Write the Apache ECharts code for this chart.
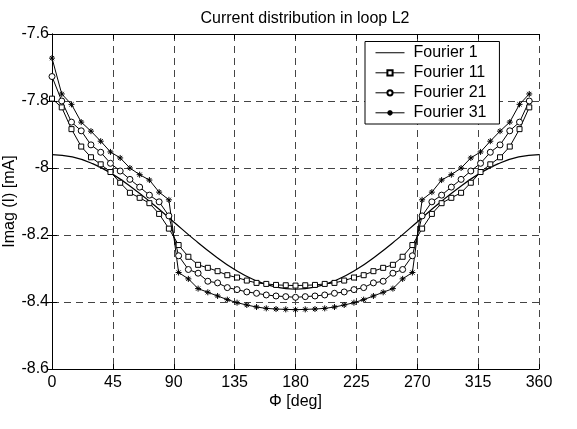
<!DOCTYPE html>
<html>
<head>
<meta charset="UTF-8">
<title>Current distribution in loop L2</title>
<script src="https://cdn.jsdelivr.net/npm/echarts@6/dist/echarts.min.js"></script>
<style>
  html, body { margin: 0; padding: 0; background: #fff; }
  #chart { width: 577px; height: 429px; }
</style>
</head>
<body>
<div id="chart"></div>
<script>
// sample positions [deg]
const phi = [0, 7.2, 14.4, 21.6, 28.8, 36, 43.2, 50.4, 57.6, 64.8, 72, 79.2, 86.4, 93.6, 100.8, 108, 115.2, 122.4, 129.6, 136.8, 144, 151.2, 158.4, 165.6, 172.8, 180,
  187.2, 194.4, 201.6, 208.8, 216, 223.2, 230.4, 237.6, 244.8, 252, 259.2, 266.4, 273.6, 280.8, 288, 295.2, 302.4, 309.6, 316.8, 324, 331.2, 338.4, 345.6, 352.8];
const phi1 = [0, 15, 30, 45, 60, 75, 90, 105, 120, 135, 150, 165, 180, 195, 210, 225, 240, 255, 270, 285, 300, 315, 330, 345, 360];

// Imag(I) [mA]
const fourier1 = [-7.960, -7.967, -7.987, -8.019, -8.061, -8.109, -8.161, -8.213, -8.261, -8.303, -8.335, -8.355, -8.362,
  -8.355, -8.335, -8.303, -8.261, -8.213, -8.161, -8.109, -8.061, -8.019, -7.987, -7.967, -7.960];
const fourier11 = [-7.793, -7.819, -7.884, -7.936, -7.968, -7.989, -8.012, -8.044, -8.074, -8.089, -8.105, -8.137, -8.181, -8.230, -8.265, -8.289, -8.298, -8.308, -8.320, -8.327, -8.336, -8.343, -8.346, -8.349, -8.350, -8.351,
  -8.350, -8.349, -8.346, -8.343, -8.336, -8.327, -8.320, -8.308, -8.298, -8.289, -8.265, -8.230, -8.181, -8.137, -8.105, -8.089, -8.074, -8.044, -8.012, -7.989, -7.968, -7.936, -7.884, -7.819];
const fourier21 = [-7.727, -7.800, -7.863, -7.889, -7.931, -7.953, -7.986, -8.009, -8.034, -8.057, -8.081, -8.101, -8.143, -8.262, -8.303, -8.314, -8.338, -8.343, -8.357, -8.363, -8.370, -8.374, -8.379, -8.382, -8.384, -8.386,
  -8.384, -8.382, -8.379, -8.374, -8.370, -8.363, -8.357, -8.343, -8.338, -8.314, -8.303, -8.262, -8.143, -8.101, -8.081, -8.057, -8.034, -8.009, -7.986, -7.953, -7.931, -7.889, -7.863, -7.800];
const fourier31 = [-7.672, -7.779, -7.810, -7.863, -7.890, -7.920, -7.952, -7.970, -8.000, -8.020, -8.036, -8.072, -8.095, -8.312, -8.331, -8.360, -8.371, -8.382, -8.393, -8.402, -8.409, -8.415, -8.419, -8.421, -8.422, -8.423,
  -8.422, -8.421, -8.419, -8.415, -8.409, -8.402, -8.393, -8.382, -8.371, -8.360, -8.331, -8.312, -8.095, -8.072, -8.036, -8.020, -8.000, -7.970, -7.952, -7.920, -7.890, -7.863, -7.810, -7.779];

const pairs = (xs, ys) => xs.map((x, i) => [x, ys[i]]);
const FONT = "'Liberation Sans', Arial, sans-serif";
const star = 'path://M5,0 L5,10 M0,5 L10,5 M1.5,1.5 L8.5,8.5 M8.5,1.5 L1.5,8.5';
// plain line for the legend entry of Fourier 1 (tiny corner dots fix the box)
const plainLine = 'path://M0,0 L0.01,0 L0,0.01 Z M0,2.8 L29,2.8 L29,3.8 L0,3.8 Z M29,6.5 L28.99,6.5 L29,6.49 Z';

const chart = echarts.init(document.getElementById('chart'));

const gridDash = { color: '#444', width: 1, type: [7, 5] };
const axisBase = {
  axisLine: { show: true, lineStyle: { color: '#000', width: 1 } },
  axisTick: { show: true, inside: true, length: 5, lineStyle: { color: '#000' } }
};

const option = {
  backgroundColor: '#fff',
  animation: false,
  textStyle: { fontFamily: FONT },
  title: {
    text: 'Current distribution in loop L2',
    left: 300, top: 6, textAlign: 'center',
    textStyle: { fontFamily: FONT, fontSize: 16, fontWeight: 'normal', color: '#000' }
  },
  grid: { left: 52, right: 38, top: 34, bottom: 60, outerBoundsMode: 'none', containLabel: false },
  legend: {
    orient: 'vertical',
    left: 365, top: 41.5,
    padding: [3.3, 13, 3.2, 10],
    itemWidth: 29, itemHeight: 6.5, itemGap: 4,
    backgroundColor: '#fff',
    borderColor: '#000', borderWidth: 1, borderRadius: 0,
    lineStyle: { width: 1 },
    textStyle: { fontFamily: FONT, fontSize: 16, color: '#000', padding: [0, 0, 0, 4] },
    data: [
      { name: 'Fourier 1', icon: plainLine, itemStyle: { color: '#000' } },
      'Fourier 11', 'Fourier 21', 'Fourier 31'
    ]
  },
  xAxis: [{
    type: 'value', min: 0, max: 360, interval: 45,
    name: 'Φ [deg]', nameLocation: 'middle', nameGap: 25, nameMoveOverlap: false,
    nameTextStyle: { fontFamily: FONT, fontSize: 16, color: '#000' },
    axisLabel: { color: '#000', fontSize: 16, margin: 6, fontFamily: FONT },
    splitLine: { show: true, lineStyle: gridDash },
    ...axisBase
  }, {
    type: 'value', min: 0, max: 360, interval: 45, position: 'top',
    axisLabel: { show: false }, splitLine: { show: false },
    ...axisBase
  }],
  yAxis: [{
    type: 'value', min: -8.6, max: -7.6, interval: 0.2,
    name: 'Imag (I) [mA]', nameLocation: 'middle', nameGap: 34, nameMoveOverlap: false,
    nameTextStyle: { fontFamily: FONT, fontSize: 16, color: '#000' },
    axisLabel: { color: '#000', fontSize: 16, margin: 3, fontFamily: FONT },
    splitLine: { show: true, lineStyle: gridDash },
    ...axisBase
  }, {
    type: 'value', min: -8.6, max: -7.6, interval: 0.2, position: 'right',
    axisLabel: { show: false }, splitLine: { show: false },
    ...axisBase
  }],
  series: [
    {
      name: 'Fourier 1', type: 'line', smooth: true, symbol: 'none',
      data: pairs(phi1, fourier1),
      lineStyle: { color: '#000', width: 1.2 }, itemStyle: { color: '#000' }
    },
    {
      name: 'Fourier 11', type: 'line', symbol: 'rect', symbolSize: 5,
      data: pairs(phi, fourier11),
      lineStyle: { color: '#000', width: 1 },
      itemStyle: { color: '#fff', borderColor: '#000', borderWidth: 1 }
    },
    {
      name: 'Fourier 21', type: 'line', symbol: 'circle', symbolSize: 6,
      data: pairs(phi, fourier21),
      lineStyle: { color: '#000', width: 1 },
      itemStyle: { color: '#fff', borderColor: '#000', borderWidth: 1 }
    },
    {
      name: 'Fourier 31', type: 'line', symbol: star, symbolSize: 6,
      data: pairs(phi, fourier31),
      lineStyle: { color: '#000', width: 1 },
      itemStyle: { color: 'rgba(0,0,0,0)', borderColor: '#000', borderWidth: 1 }
    }
  ]
};

chart.setOption(option);
</script>
</body>
</html>
